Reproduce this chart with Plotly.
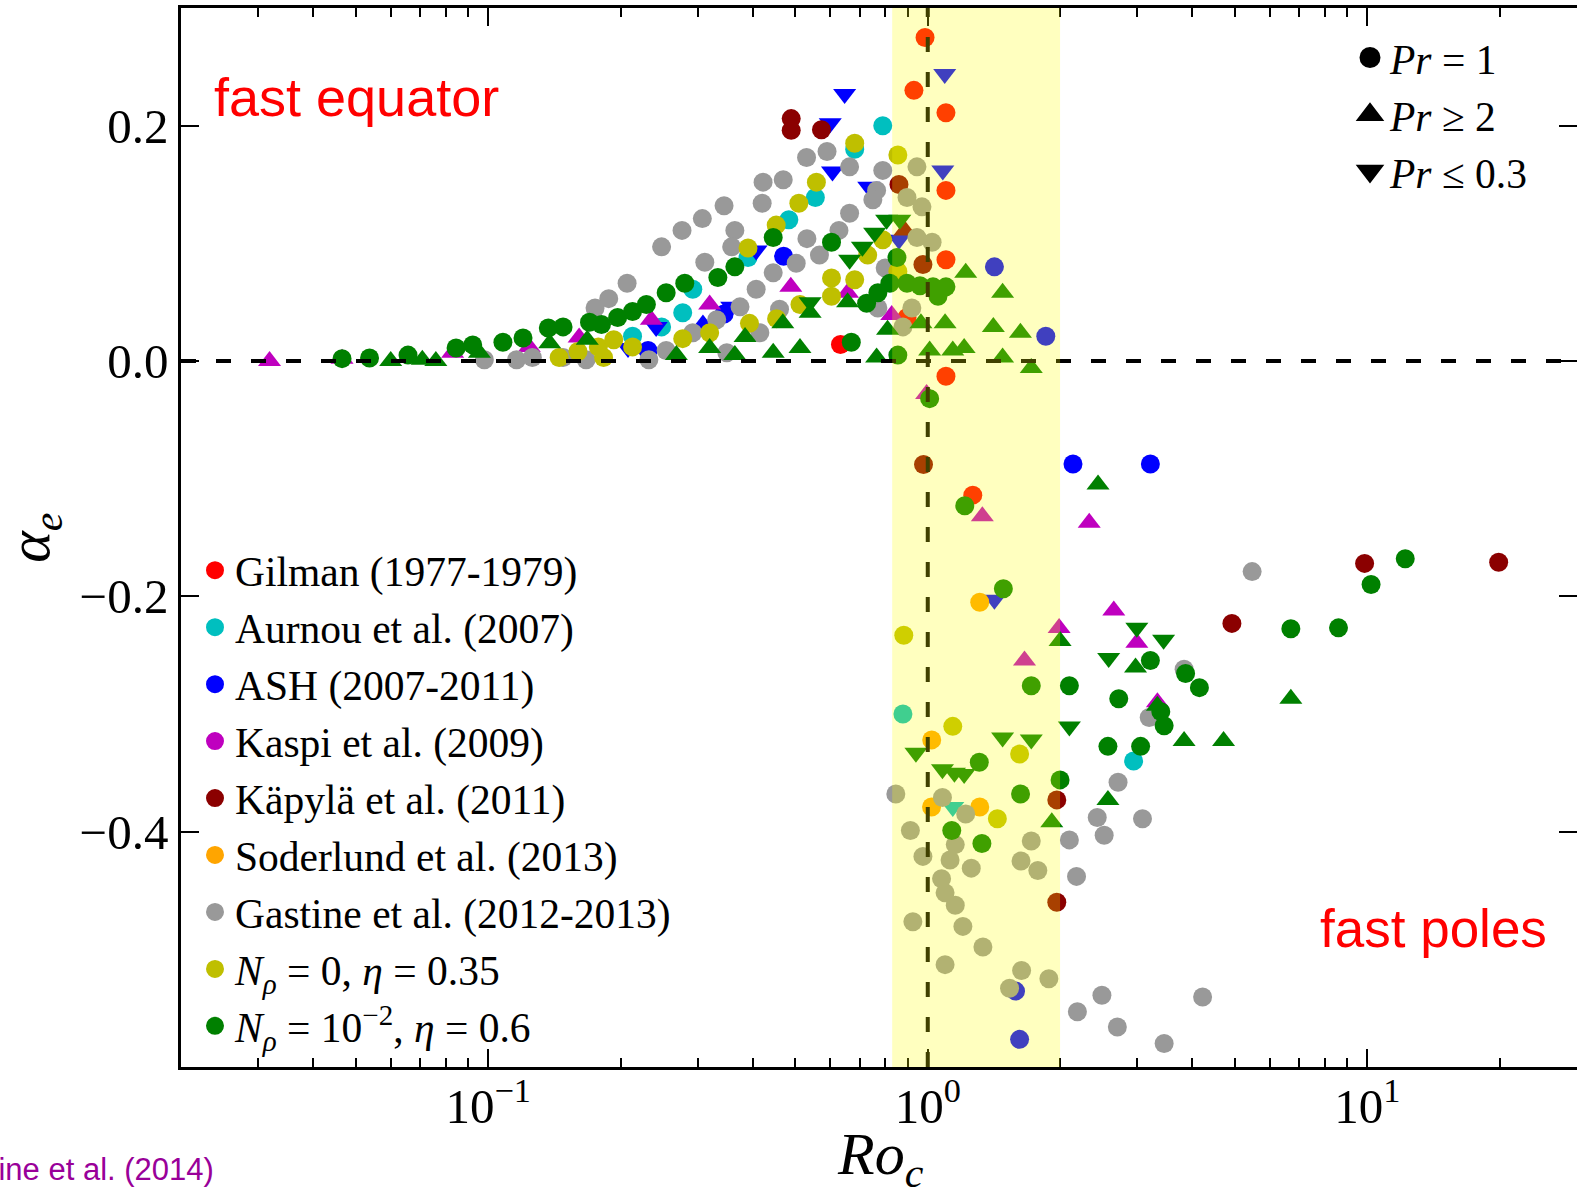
import math
import plotly.graph_objects as go

# ---------------- data ----------------
gilman_circ_x = [0.986, 0.93, 1.10, 1.10, 1.10, 0.897, 0.633, 1.10, 1.266]
gilman_circ_y = [0.275, 0.230, 0.211, 0.145, 0.086, 0.037, 0.014, -0.013, -0.114]

aurnou_circ_x = [0.79, 0.682, 0.555, 0.483, 0.39, 0.292, 0.277, 0.248, 0.213, 0.878, 2.94]
aurnou_circ_y = [0.200, 0.180, 0.139, 0.120, 0.088, 0.061, 0.041, 0.029, 0.021, -0.300, -0.340]
aurnou_dn_x = [1.14]
aurnou_dn_y = [-0.379]

ash_circ_x = [0.47, 0.344, 0.231, 1.418, 1.856, 2.14, 3.21, 1.584, 1.618]
ash_circ_y = [0.089, 0.040, 0.009, 0.080, 0.021, -0.0875, -0.0875, -0.5355, -0.5765]
ash_up_x = [0.156, 0.308]
ash_up_y = [0.003, 0.031]
ash_dn_x = [0.647, 0.60, 1.093, 1.082, 0.607, 0.734, 0.407, 0.358, 0.241, 0.208, 0.86, 1.418]
ash_dn_y = [0.227, 0.202, 0.244, 0.162, 0.161, 0.148, 0.094, 0.046, 0.029, 0.011, 0.103, -0.203]

kaspi_up_x = [0.0318, 0.0465, 0.083, 0.124, 0.161, 0.235, 0.319, 0.488, 0.657, 0.828,
              0.994, 1.331, 2.33, 2.65, 1.99, 2.99, 1.66, 3.33]
kaspi_up_y = [0.0, 0.002, 0.007, 0.012, 0.020, 0.035, 0.048, 0.063, 0.058, 0.039,
              -0.028, -0.132, -0.1375, -0.212, -0.227, -0.2395, -0.2545, -0.290]

kapyla_circ_x = [0.489, 0.489, 0.573, 0.86, 0.975, 0.978, 1.966, 1.966, 4.92, 9.86, 19.9]
kapyla_circ_y = [0.206, 0.196, 0.1965, 0.150, 0.082, -0.088, -0.373, -0.460, -0.223, -0.172, -0.171]
kapyla_up_x = [0.887]
kapyla_up_y = [0.111]

soderlund_circ_x = [1.313, 1.021, 1.02, 1.313]
soderlund_circ_y = [-0.205, -0.322, -0.379, -0.379]

gastine_circ_x = [0.248, 0.207, 0.188, 0.175, 0.276, 0.307, 0.344, 0.422, 0.469, 0.53,
                  0.59, 0.664, 0.42, 0.364, 0.358, 0.311, 0.531, 0.664, 0.628, 0.567,
                  0.502, 0.445, 0.407, 0.374, 0.331, 0.292, 0.254, 0.232, 0.349, 0.415,
                  0.46, 0.765, 0.79, 0.75, 0.945, 0.897, 0.970, 0.945, 1.023, 0.80,
                  0.77, 0.92, 0.878, 0.116, 0.126, 0.148, 0.167, 0.098,
                  0.846, 1.08, 1.22, 0.913, 1.155, 0.975, 1.124, 1.256, 1.72, 1.63,
                  1.78, 1.075, 1.095, 1.155, 0.925, 1.202, 1.335, 1.095, 1.635, 1.886,
                  1.535, 2.1, 2.43, 2.52, 3.08, 2.18, 2.71, 2.49, 2.19, 2.7,
                  3.45, 4.22, 5.47, 3.83, 3.19]
gastine_circ_y = [0.097, 0.066, 0.053, 0.045, 0.111, 0.121, 0.132, 0.152, 0.154, 0.173,
                  0.178, 0.165, 0.134, 0.111, 0.097, 0.084, 0.104, 0.1255, 0.111, 0.090,
                  0.083, 0.075, 0.061, 0.046, 0.035, 0.024, 0.009, 0.001, 0.007, 0.024,
                  0.044, 0.145, 0.162, 0.137, 0.165, 0.139, 0.131, 0.105, 0.101, 0.079,
                  0.045, 0.045, 0.029, 0.001, 0.003, 0.003, 0.001, 0.001,
                  -0.368, -0.371, -0.385, -0.399, -0.411, -0.421, -0.424, -0.431, -0.408, -0.425,
                  -0.433, -0.440, -0.452, -0.4625, -0.4765, -0.4805, -0.498, -0.513, -0.518, -0.525,
                  -0.533, -0.407, -0.388, -0.403, -0.389, -0.438, -0.358, -0.539, -0.553, -0.566,
                  -0.580, -0.5405, -0.179, -0.262, -0.303]

nrho0_circ_x = [0.682, 0.558, 0.509, 0.452, 0.39, 0.855, 0.79, 0.73, 0.682, 0.604,
                0.604, 0.512, 0.453, 0.393, 0.319, 0.277, 0.855, 0.145, 0.16, 0.178,
                0.193, 0.183, 0.213, 0.882, 1.14, 1.618, 1.44]
nrho0_circ_y = [0.185, 0.152, 0.134, 0.1155, 0.096, 0.175, 0.103, 0.090, 0.069, 0.0705,
                0.055, 0.048, 0.036, 0.032, 0.024, 0.019, 0.076, 0.003, 0.008, 0.012,
                0.018, 0.003, 0.012, -0.233, -0.3105, -0.334, -0.389]

nrho2_circ_x = [0.0465, 0.0537, 0.0657, 0.0845, 0.0922, 0.108, 0.12, 0.137, 0.148, 0.17,
                0.181, 0.197, 0.213, 0.229, 0.254, 0.28, 0.333, 0.364, 0.445, 0.604,
                0.851, 0.726, 0.77, 0.82, 0.897, 0.96, 1.028, 1.10, 1.055, 0.67,
                0.855, 1.01,
                1.214, 1.486, 1.72, 2.1, 2.72, 3.21, 3.86, 4.15, 3.45, 3.39,
                2.57, 3.05, 1.31, 2.0, 1.626, 1.134, 1.328, 6.7, 8.6, 10.2, 12.2]
nrho2_circ_y = [0.002, 0.0026, 0.005, 0.011, 0.0137, 0.016, 0.0196, 0.028, 0.029, 0.033,
                0.031, 0.037, 0.042, 0.048, 0.058, 0.066, 0.071, 0.080, 0.105, 0.101,
                0.088, 0.049, 0.058, 0.066, 0.066, 0.064, 0.063, 0.063, 0.055, 0.016,
                0.005, -0.032,
                -0.123, -0.1935, -0.276, -0.276, -0.287, -0.2545, -0.2656, -0.2776, -0.310, -0.298,
                -0.3275, -0.3275, -0.341, -0.356, -0.368, -0.399, -0.410, -0.2275, -0.2268, -0.190, -0.168]
nrho2_up_x = [0.06, 0.0708, 0.076, 0.0955, 0.138, 0.168, 0.268, 0.319, 0.364, 0.384,
              0.445, 0.468, 0.512, 0.54, 0.657, 0.765, 0.81, 0.965, 1.095, 1.01,
              1.14, 1.21, 1.22, 1.48, 1.41, 1.625, 1.48, 1.72, 2.44, 2.0,
              2.97, 3.33, 3.83, 4.71, 2.57, 1.915, 6.7]
nrho2_up_y = [0.0, 0.001, 0.0, 0.007, 0.015, 0.018, 0.005, 0.011, 0.005, 0.0205,
              0.007, 0.032, 0.011, 0.041, 0.050, 0.003, 0.0265, 0.032, 0.032, 0.009,
              0.009, 0.011, 0.075, 0.058, 0.029, 0.024, 0.003, -0.006, -0.105, -0.238,
              -0.2605, -0.293, -0.323, -0.323, -0.373, -0.392, -0.287]
nrho2_dn_x = [0.806, 0.864, 0.757, 0.71, 0.664, 0.54, 0.94, 1.08, 1.15, 1.21,
              1.48, 1.72, 2.1, 2.58, 2.99, 3.44]
nrho2_dn_y = [0.12, 0.12, 0.109, 0.097, 0.086, 0.050, -0.333, -0.347, -0.350, -0.351,
              -0.320, -0.3216, -0.3106, -0.2524, -0.2268, -0.237]

legend_labels = ["Gilman (1977-1979)", "Aurnou et al. (2007)", "ASH (2007-2011)",
                 "Kaspi et al. (2009)", "Käpylä et al. (2011)", "Soderlund et al. (2013)",
                 "Gastine et al. (2012-2013)",
                 "<i>N</i><sub><i>ρ</i></sub> = 0, <i>η</i> = 0.35",
                 "<i>N</i><sub><i>ρ</i></sub> = 10<sup>−2</sup>, <i>η</i> = 0.6"]
colors = ["#FF0000", "#00BFBF", "#0000FF", "#BF00BF", "#8B0000", "#FFA500",
          "#999999", "#BFBF00", "#008000"]
pr_labels = ["<i>Pr</i> = 1", "<i>Pr</i> ≥ 2", "<i>Pr</i> ≤ 0.3"]

band_lo, band_hi = 0.83, 2.0
x_range = [0.02, 30]
y_range = [-0.6, 0.3]
x_major = [0.1, 1, 10]
x_major_text = ["10<sup>−1</sup>", "10<sup>0</sup>", "10<sup>1</sup>"]
x_minor = [0.03, 0.04, 0.05, 0.06, 0.07, 0.08, 0.09,
           0.2, 0.3, 0.4, 0.5, 0.6, 0.7, 0.8, 0.9,
           2, 3, 4, 5, 6, 7, 8, 9, 20]
y_major = [-0.4, -0.2, 0.0, 0.2]
y_major_text = ["−0.4", "−0.2", "0.0", "0.2"]

series = [
    (gilman_circ_x, gilman_circ_y, [], [], [], []),
    (aurnou_circ_x, aurnou_circ_y, [], [], aurnou_dn_x, aurnou_dn_y),
    (ash_circ_x, ash_circ_y, ash_up_x, ash_up_y, ash_dn_x, ash_dn_y),
    ([], [], kaspi_up_x, kaspi_up_y, [], []),
    (kapyla_circ_x, kapyla_circ_y, kapyla_up_x, kapyla_up_y, [], []),
    (soderlund_circ_x, soderlund_circ_y, [], [], [], []),
    (gastine_circ_x, gastine_circ_y, [], [], [], []),
    (nrho0_circ_x, nrho0_circ_y, [], [], [], []),
    (nrho2_circ_x, nrho2_circ_y, nrho2_up_x, nrho2_up_y, nrho2_dn_x, nrho2_dn_y),
]

SERIF = "Liberation Serif, Times New Roman, serif"
SANS = "Liberation Sans, Arial, sans-serif"

fig = go.Figure()

for (cx, cy, ux, uy, dx, dy), col in zip(series, colors):
    for xs, ys, sym, sz in ((cx, cy, "circle", 19), (ux, uy, "triangle-up", 20),
                            (dx, dy, "triangle-down", 20)):
        if xs:
            fig.add_trace(go.Scatter(x=xs, y=ys, mode="markers", showlegend=False,
                                     marker=dict(symbol=sym, size=sz, color=col,
                                                 line=dict(width=0)),
                                     hoverinfo="x+y"))

# legend entries (dataset colours)
for lab, col in zip(legend_labels, colors):
    fig.add_trace(go.Scatter(x=[None], y=[None], mode="markers", name=lab,
                             legend="legend",
                             marker=dict(symbol="circle", size=16, color=col,
                                         line=dict(color=col, width=2))))
# legend entries (Prandtl symbols)
for lab, sym in zip(pr_labels, ["circle", "triangle-up", "triangle-down"]):
    fig.add_trace(go.Scatter(x=[None], y=[None], mode="markers", name=lab,
                             legend="legend2",
                             marker=dict(symbol=sym, size=16, color="black",
                                         line=dict(color="black", width=5))))

# dummy trace for right-hand tick axis
fig.add_trace(go.Scatter(x=[None], y=[None], yaxis="y2", showlegend=False,
                         hoverinfo="skip"))

L, R, T, B = 181, 0, 8, 120.5
W, H = 1577, 1188
pw, ph = W - L - R, H - T - B


def px(xpix):
    return (xpix - L) / pw


def py(ypix):
    return (H - B - ypix) / ph


fig.update_layout(
    width=W, height=H,
    margin=dict(l=L, r=R, t=T, b=B, autoexpand=False),
    paper_bgcolor="white", plot_bgcolor="white",
    font=dict(family=SERIF, color="black", size=40),
    xaxis=dict(type="log", range=[math.log10(x_range[0]), math.log10(x_range[1])],
               automargin=False,
               showgrid=False, zeroline=False,
               showline=True, linecolor="black", linewidth=2.5, mirror="ticks",
               ticks="inside", ticklen=18, tickwidth=2, tickcolor="black",
               tickvals=x_major, ticktext=x_major_text, ticklabelstandoff=-6,
               tickfont=dict(family=SERIF, size=49),
               minor=dict(tickvals=x_minor, ticks="inside", ticklen=9, tickwidth=2,
                          tickcolor="black", showgrid=False)),
    yaxis=dict(range=y_range, automargin=False, showgrid=False, zeroline=False,
               showline=True, linecolor="black", linewidth=2.5, mirror=False,
               ticks="inside", ticklen=18, tickwidth=2, tickcolor="black",
               tickvals=y_major, ticktext=y_major_text,
               tickfont=dict(family=SERIF, size=49)),
    yaxis2=dict(range=y_range, overlaying="y", side="right", anchor="x",
                automargin=False,
                showgrid=False, zeroline=False, showline=False,
                ticks="inside", ticklen=18, tickwidth=2, tickcolor="black",
                tickvals=y_major, showticklabels=False),
    legend=dict(x=px(195), y=py(537), xanchor="left", yanchor="top",
                bgcolor="rgba(0,0,0,0)", borderwidth=0,
                font=dict(family=SERIF, size=41.5, color="black"),
                itemsizing="trace", tracegroupgap=0),
    legend2=dict(x=px(1350), y=py(24), xanchor="left", yanchor="top",
                 bgcolor="rgba(0,0,0,0)", borderwidth=0,
                 font=dict(family=SERIF, size=41.5, color="black"),
                 itemsizing="trace", tracegroupgap=0),
    showlegend=True,
)

dash = "15px,20px"
fig.add_shape(type="line", xref="paper", yref="y", x0=0, x1=1, y0=0, y1=0,
              line=dict(color="black", width=4, dash=dash), layer="above")
fig.add_shape(type="line", xref="x", yref="paper", x0=1, x1=1,
              y0=0, y1=1, line=dict(color="black", width=4, dash=dash), layer="above")
fig.add_shape(type="rect", xref="x", yref="paper",
              x0=band_lo, x1=band_hi, y0=0, y1=1,
              fillcolor="rgba(255,255,0,0.25)", line=dict(width=0), layer="above")

# axis titles
fig.add_annotation(text="<i>Ro</i><sub><i>c</i></sub>", xref="paper", yref="paper",
                   x=px(880), y=py(1159), xanchor="center", yanchor="middle",
                   showarrow=False, font=dict(family=SERIF, size=60, color="black"))
fig.add_annotation(text="<i>α</i><sub><i>e</i></sub>", xref="paper", yref="paper",
                   x=px(34), y=py(538), xanchor="center", yanchor="middle",
                   textangle=-90, showarrow=False,
                   font=dict(family=SERIF, size=60, color="black"))

fig.add_annotation(text="fast equator", xref="paper", yref="paper",
                   x=px(212), y=py(97), xanchor="left", yanchor="middle",
                   showarrow=False, font=dict(family=SANS, size=54, color="#FF0000"))
fig.add_annotation(text="fast poles", xref="paper", yref="paper",
                   x=px(1318), y=py(929), xanchor="left", yanchor="middle",
                   showarrow=False, font=dict(family=SANS, size=53, color="#FF0000"))
fig.add_annotation(text="Gastine et al. (2014)", xref="paper", yref="paper",
                   x=px(216), y=py(1170), xanchor="right", yanchor="middle",
                   showarrow=False,
                   font=dict(family="Liberation Sans Narrow, Arial Narrow, Liberation Sans",
                             size=31, color="#990099"))

fig.write_html("out.html", config={"displayModeBar": False},
               post_script="document.body.style.margin='0';"
                           "document.body.style.overflow='hidden';")
